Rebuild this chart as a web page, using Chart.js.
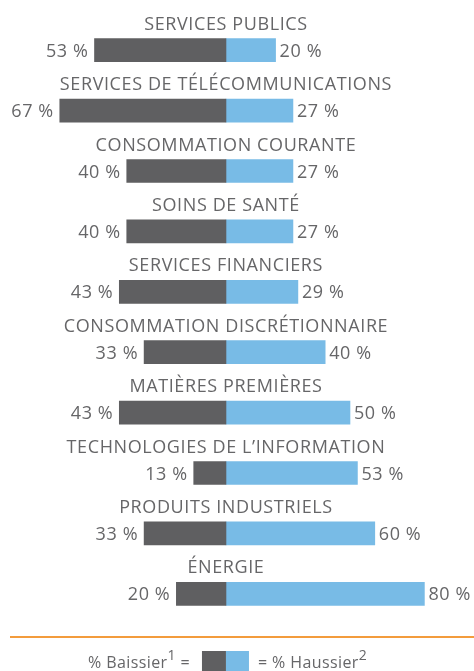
<!DOCTYPE html>
<html>
<head>
<meta charset="utf-8">
<script src="https://cdn.jsdelivr.net/npm/chart.js@4/dist/chart.umd.min.js"></script>
<style>
  html, body { margin: 0; padding: 0; background: #fff; }
  #wrap { width: 474px; height: 671px; position: relative; }
</style>
</head>
<body>
<div id="wrap"><canvas id="bars"></canvas></div>
<script>
var secteurs = ["SERVICES PUBLICS", "SERVICES DE TÉLÉCOMMUNICATIONS", "CONSOMMATION COURANTE",
  "SOINS DE SANTÉ", "SERVICES FINANCIERS", "CONSOMMATION DISCRÉTIONNAIRE",
  "MATIÈRES PREMIÈRES", "TECHNOLOGIES DE L’INFORMATION", "PRODUITS INDUSTRIELS", "ÉNERGIE"]
var baissier = [53, 67, 40, 40, 43, 33, 43, 13, 33, 20]
var haussier = [20, 27, 27, 27, 29, 40, 50, 53, 60, 80]

var gris = "#5f5f61"
var bleu = "#78bbe6"
var texte = "#666668"
var police = "'Open Sans', sans-serif"

// titres, valeurs, ligne et legende dessines a la main
var etiquettes = {
  id: 'etiquettes',
  afterDraw: function(chart) {
    var ctx = chart.ctx
    var x = chart.scales.x
    var zero = x.getPixelForValue(0)
    var meta0 = chart.getDatasetMeta(0)
    var meta1 = chart.getDatasetMeta(1)
    ctx.save()
    ctx.fillStyle = texte
    for (var i = 0; i < secteurs.length; i++) {
      var y = meta0.data[i].y
      ctx.font = "18px " + police
      ctx.letterSpacing = "0.6px"
      ctx.textAlign = "center"
      ctx.textBaseline = "alphabetic"
      ctx.fillText(secteurs[i], zero, y - 20.5)
      ctx.textAlign = "right"
      ctx.fillText(baissier[i] + " %", meta0.data[i].x - 6, y + 6.5)
      ctx.textAlign = "left"
      ctx.fillText(haussier[i] + " %", meta1.data[i].x + 4, y + 6.5)
    }
    // ligne de separation
    ctx.strokeStyle = "#f39c3c"
    ctx.lineWidth = 2
    ctx.beginPath()
    ctx.moveTo(10, 637)
    ctx.lineTo(474, 637)
    ctx.stroke()
    // legende
    var ly = 661
    ctx.fillStyle = gris
    ctx.fillRect(zero - 24, ly - 10, 24, 20)
    ctx.fillStyle = bleu
    ctx.fillRect(zero, ly - 10, 23, 20)
    ctx.fillStyle = texte
    ctx.letterSpacing = "0.4px"
    ctx.textBaseline = "alphabetic"
    ctx.font = "16px " + police
    var base = ly + 7
    // gauche
    ctx.textAlign = "right"
    ctx.fillText("=", zero - 36, base)
    var wEq = ctx.measureText("= ").width
    ctx.font = "14px " + police
    ctx.fillText("1", zero - 36 - wEq, base - 8)
    var wSup = ctx.measureText("1").width
    ctx.font = "16px " + police
    ctx.fillText("% Baissier", zero - 36 - wEq - wSup, base)
    // droite
    ctx.textAlign = "left"
    var t = "= % Haussier"
    ctx.fillText(t, zero + 32, base)
    var wt = ctx.measureText(t).width
    ctx.font = "14px " + police
    ctx.fillText("2", zero + 32 + wt, base - 8)
    ctx.restore()
  }
}

new Chart(document.getElementById("bars"), {
  type: 'bar',
  data: {
    labels: secteurs,
    datasets: [{
      label: "% Baissier",
      backgroundColor: gris,
      data: baissier.map(function(v) { return -v })
    }, {
      label: "% Haussier",
      backgroundColor: bleu,
      data: haussier
    }]
  },
  options: {
    indexAxis: 'y',
    responsive: true,
    maintainAspectRatio: false,
    animation: false,
    events: [],
    layout: { padding: { top: 20, bottom: 47, left: 0, right: 0 } },
    datasets: { bar: { barThickness: 23 } },
    scales: {
      x: { stacked: true, display: false, min: -91.1, max: 100 },
      y: { stacked: true, display: false }
    },
    plugins: {
      legend: { display: false },
      tooltip: { enabled: false }
    }
  },
  plugins: [etiquettes]
})
</script>
</body>
</html>
